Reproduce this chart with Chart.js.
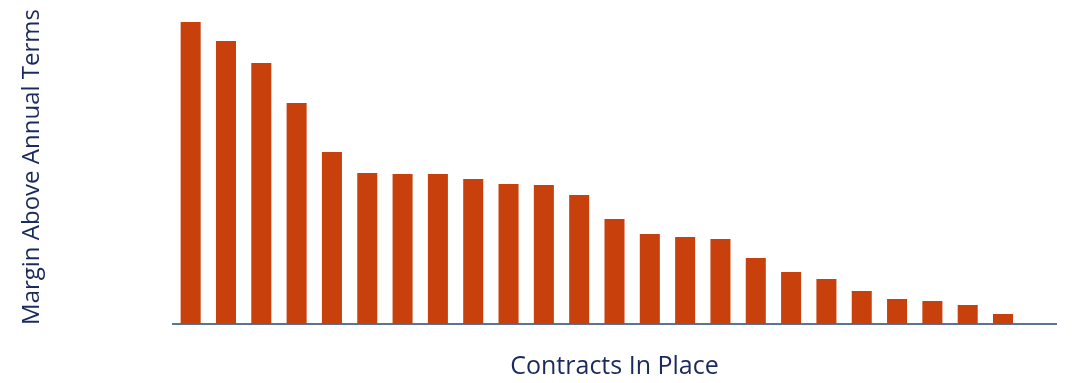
<!DOCTYPE html>
<html>
<head>
<meta charset="utf-8">
<script src="https://cdn.jsdelivr.net/npm/chart.js@4"></script>
<style>
  html, body { margin: 0; padding: 0; background: #fff; }
  #wrap { width: 1076px; height: 383px; }
</style>
</head>
<body>
<div id="wrap"><canvas id="chart" width="1076" height="383"></canvas></div>
<script>
// Contracts (unlabelled), sorted by margin; last slot is empty
const contracts = Array.from({ length: 25 }, (_, i) => 'C' + (i + 1));
const margins = [302, 283, 261, 221, 172, 151, 150, 150, 145, 140, 139, 129,
                 105, 90, 87, 85, 66, 52, 45, 33, 25, 23, 19, 10, null];

const titleColor = '#1b2a5c';
const barColor = '#c8410c';
const axisColor = '#5a7590';

new Chart(document.getElementById('chart'), {
    type: 'bar',
    data: {
        labels: contracts,
        datasets: [{
            data: margins,
            backgroundColor: barColor,
            borderWidth: 0,
            barPercentage: 0.567,
            categoryPercentage: 1
        }]
    },
    options: {
        responsive: false,
        animation: false,
        layout: { padding: { top: 10, right: 20, bottom: 0, left: 0 } },
        plugins: { legend: { display: false }, tooltip: { enabled: false } },
        scales: {
            x: {
                ticks: { display: false },
                grid: { display: false },
                border: { display: true, color: axisColor, width: 2 },
                title: {
                    display: true,
                    text: 'Contracts In Place',
                    color: titleColor,
                    font: { family: 'Open Sans', size: 25 },
                    padding: { top: 0, bottom: 1 }
                },
                afterFit: s => { s.height = 59; }
            },
            y: {
                min: 0,
                max: 314,
                ticks: { display: false },
                grid: { display: false },
                border: { display: false },
                title: {
                    display: true,
                    text: 'Margin Above Annual Terms',
                    color: titleColor,
                    font: { family: 'Open Sans', size: 24 },
                    padding: { top: 18, bottom: 0 }
                },
                afterFit: s => { s.width = 173; }
            }
        }
    }
});
</script>
</body>
</html>
